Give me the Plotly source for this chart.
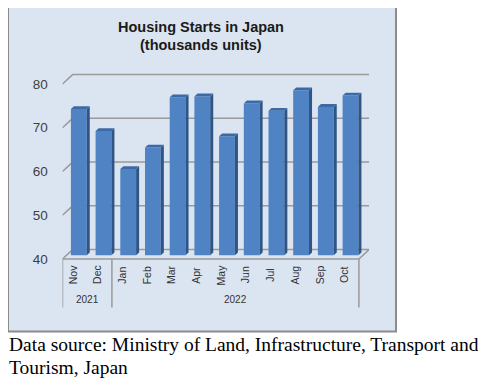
import plotly.graph_objects as go

# ---- data ----
months = ["Nov", "Dec", "Jan", "Feb", "Mar", "Apr", "May", "Jun", "Jul", "Aug", "Sep", "Oct"]
values = [73.4, 68.4, 59.7, 64.6, 76.1, 76.3, 67.2, 74.7, 73.0, 77.7, 73.9, 76.5]
years = ["2021", "2022"]
year_spans = [(0, 1), (2, 11)]
y_ticks = [40, 50, 60, 70, 80]

OFF = 8                 # default page body margin
W, H = 486 - OFF, 385 - OFF
FLOOR = 40
DX, DY = 0.41, 2.15   # depth of 3D box in axis units
F = 0.40              # depth of bar front face
C = 0.30              # bar depth (fraction of box depth)
BW, BOFF = 0.64, -0.16

X0, X1 = -0.5, 11.5 + DX
Y0, Y1 = 39, 84
px_x0, px_x1 = 62.5, 62.5 + (X1 - X0) * 24.7
px_y40 = 261.0
ppu = 4.41
px_ybot = px_y40 + (FLOOR - Y0) * ppu
px_ytop = px_y40 - (Y1 - FLOOR) * ppu

def py(p):  # window pixel y -> paper
    return 1 - (p - OFF) / H

def px(p):
    return (p - OFF) / W

fig = go.Figure()

base = FLOOR + F * DY
fig.add_trace(go.Bar(
    x=list(range(len(months))), y=[v - FLOOR for v in values], base=base,
    width=BW, offset=BOFF,
    marker=dict(color="#4f83c3", line=dict(width=0)),
    hoverinfo="skip", showlegend=False,
))

shapes = []
# outer box
shapes.append(dict(type="rect", xref="paper", yref="paper", x0=px(8), x1=px(396), y0=py(334), y1=py(6),
                   fillcolor="#dbe5f1", line=dict(color="#8c8c8c", width=2), layer="below"))
grid = dict(color="#9a9a9a", width=1.5)
# back gridlines with diagonal
for t in y_ticks:
    if t == FLOOR:
        continue
    shapes.append(dict(type="path", xref="x", yref="y", layer="below",
                       path=f"M {X0},{t} L {X0+DX},{t+DY} L {11.5+DX},{t+DY}", line=grid))
# floor
shapes.append(dict(type="path", xref="x", yref="y", layer="below",
                   path=f"M {X0},{FLOOR} L {X0+DX},{FLOOR+DY} L {11.5+DX},{FLOOR+DY} L 11.5,{FLOOR} Z",
                   line=grid, fillcolor="rgba(0,0,0,0)"))
# bar side and top faces
for i, v in enumerate(values):
    xl = i + BOFF
    xr = xl + BW
    top = v + F * DY
    shapes.append(dict(type="path", xref="x", yref="y", layer="above",
                       path=f"M {xr},{base} L {xr},{top} L {xr+C*DX},{top+C*DY} L {xr+C*DX},{base+C*DY} Z",
                       fillcolor="#2e5586", line=dict(width=0)))
    shapes.append(dict(type="path", xref="x", yref="y", layer="above",
                       path=f"M {xl},{top} L {xr},{top} L {xr+C*DX},{top+C*DY} L {xl+C*DX},{top+C*DY} Z",
                       fillcolor="#3c6aa6", line=dict(width=0)))
# category dividers
cat_line = dict(color="#9a9a9a", width=1.5)
for xb in [-0.5] + [s[1] + 0.5 for s in year_spans]:
    shapes.append(dict(type="line", xref="x", yref="paper", x0=xb, x1=xb, y0=py(310), y1=py(px_y40),
                       line=cat_line))

annotations = []
title_font = dict(family="Arial, Liberation Sans", size=14.5, color="#1a1a1a")
for txt, yc in [("<b>Housing Starts in Japan</b>", 27), ("<b>(thousands units)</b>", 45)]:
    annotations.append(dict(text=txt, x=px(201), y=py(yc), xref="paper", yref="paper",
                            xanchor="center", yanchor="middle", showarrow=False, font=title_font))
# month labels
for i, m in enumerate(months):
    annotations.append(dict(text=m, x=i - 0.1, y=py(277), xref="x", yref="paper", showarrow=False,
                            xanchor="center", yanchor="middle", textangle=-90,
                            font=dict(family="Arial, Liberation Sans", size=10.5, color="#333333")))
# year labels
for yr, (a, b) in zip(years, year_spans):
    annotations.append(dict(text=yr, x=(a + b) / 2, y=py(302), xref="x", yref="paper", showarrow=False,
                            xanchor="center", yanchor="middle",
                            font=dict(family="Arial, Liberation Sans", size=10, color="#333333")))
# caption
cap_font = dict(family="Liberation Serif, Times New Roman", size=19.5, color="#000000")
for txt, yc in [("Data source: Ministry of Land, Infrastructure, Transport and", 347),
                ("Tourism, Japan", 370)]:
    annotations.append(dict(text=txt, x=px(7), y=py(yc), xref="paper", yref="paper", xanchor="left",
                            yanchor="middle", showarrow=False, font=cap_font))

fig.update_layout(
    width=W, height=H, margin=dict(l=0, r=0, t=0, b=0),
    paper_bgcolor="white", plot_bgcolor="rgba(0,0,0,0)",
    shapes=shapes, annotations=annotations, showlegend=False,
    xaxis=dict(domain=[px(px_x0), px(px_x1)], range=[X0, X1], showgrid=False, zeroline=False,
               showticklabels=False, ticks="", showline=False, fixedrange=True),
    yaxis=dict(domain=[py(px_ybot), py(px_ytop)], range=[Y0, Y1], showgrid=False, zeroline=False,
               tickvals=y_ticks, ticks="outside", ticklen=11, tickcolor="rgba(0,0,0,0)",
               tickfont=dict(family="Arial, Liberation Sans", size=13.5, color="#404040"),
               showline=False, fixedrange=True),
)
fig.write_html("out.html")
